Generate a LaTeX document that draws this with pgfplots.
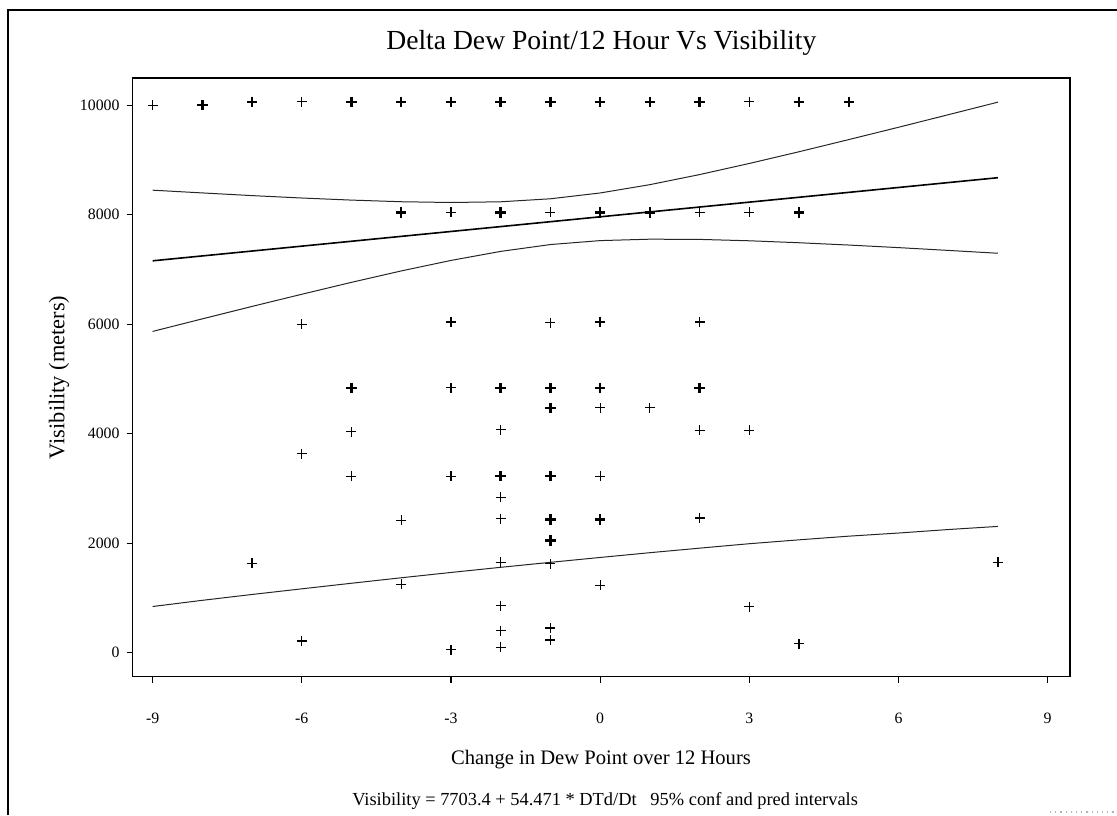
\documentclass[border=0pt]{standalone}
\usepackage{fontspec}
\setmainfont{Liberation Serif}
\usepackage{pgfplots}
\pgfplotsset{compat=1.18}

% scatter: observations (bold = repeated observations)
\pgfplotstableread{
x y
-9 10000
-6 10060
3 10060
-3 8040
-1 8040
2 8040
3 8040
-6 6000
-1 6027
2 6040
-3 4838
0 4472
1 4472
-5 4033
-2 4070
2 4057
3 4057
-6 3630
-5 3219
-3 3219
0 3219
-2 2840
-4 2416
-2 2447
2 2459
-7 1628
-2 1650
-1 1623
8 1647
-4 1250
0 1226
-2 860
3 842
-1 450
-2 403
-1 232
-6 214
4 160
-2 100
-3 50
}\thinpts
\pgfplotstableread{
x y
-8 10000
-7 10060
-5 10060
-4 10060
-3 10060
-2 10060
-1 10060
0 10060
1 10060
2 10060
4 10060
5 10060
-4 8040
-2 8040
0 8040
1 8040
4 8040
-3 6040
0 6040
-5 4838
-2 4838
-1 4838
0 4838
2 4838
-1 4472
-2 3225
-1 3225
-1 2430
0 2430
-1 2050
}\boldpts
% 95% confidence band
\pgfplotstableread{
x up lo
-9 8446 5866
-8 8396 6096
-7 8347 6323
-6 8303 6545
-5 8265 6763
-4 8235 6971
-3 8221 7163
-2 8234 7328
-1 8289 7453
0 8395 7525
1 8547 7551
2 8731 7547
3 8934 7522
4 9148 7486
5 9370 7444
6 9595 7397
7 9824 7346
8 10054 7294
}\conf
% lower 95% prediction limit
\pgfplotstableread{
x lo
-9 842
-8 955
-7 1062
-6 1165
-5 1267
-4 1367
-3 1464
-2 1558
-1 1649
0 1738
1 1825
2 1908
3 1989
4 2060
5 2127
6 2184
7 2248
8 2305
}\pred

\begin{document}
\begin{tikzpicture}
\path[use as bounding box] (0,0) rectangle (558.5pt,407.5pt);
% outer frame (open at right and bottom)
\draw[line width=0.85pt] (4.15pt,0pt) -- (4.15pt,402.5pt) -- (558.5pt,402.5pt);
\draw[gray!60, dotted, line width=0.6pt] (525pt,1.5pt) -- (558.5pt,1.5pt);
\begin{axis}[
    scale only axis,
    width=468.65pt,
    height=299.35pt,
    at={(66.35pt,69.15pt)},
    anchor=south west,
    xmin=-9.4, xmax=9.45,
    ymin=-440, ymax=10495,
    scaled y ticks=false,
    axis line style={line width=0.75pt},
    tick style={black, line width=0.6pt},
    tick align=outside,
    major tick length=3pt,
    xtick pos=bottom, ytick pos=left,
    xtick={-9,-6,-3,0,3,6,9},
    xticklabels={-9,-6,-3,0,3,6,9},
    ytick={0,2000,4000,6000,8000,10000},
    yticklabels={0,2000,4000,6000,8000,10000},
    ticklabel style={font=\fontsize{7.9pt}{9pt}\selectfont},
    xticklabel style={anchor=center, inner sep=0pt, yshift=-18pt},
    yticklabel style={anchor=east, inner sep=0pt, xshift=-3.4pt},
    title={Delta Dew Point/12 Hour Vs Visibility},
    title style={at={(rel axis cs:0.5,1)}, anchor=center, yshift=11.5pt,
        font=\fontsize{13.8pt}{16pt}\selectfont},
    xlabel={Change in Dew Point over 12 Hours},
    xlabel style={at={(rel axis cs:0.4996,0)}, anchor=center, yshift=-41.6pt,
        font=\fontsize{10.3pt}{12pt}\selectfont},
    ylabel={Visibility (meters)},
    every axis y label/.style={at={(rel axis cs:0,0.5)}, xshift=-36.8pt,
        rotate=90, anchor=center, font=\fontsize{11.2pt}{13pt}\selectfont},
    clip=false,
]
\addplot[black!85, line width=0.5pt] table[x=x, y=up] {\conf};
\addplot[black!85, line width=0.5pt] table[x=x, y=lo] {\conf};
\addplot[black, line width=0.8pt] coordinates {(-9,7156) (8,8674)};
\addplot[black!85, line width=0.5pt] table[x=x, y=lo] {\pred};
\addplot[only marks, mark=+, mark size=2.5pt, mark options={line width=0.6pt}] table {\thinpts};
\addplot[only marks, mark=+, mark size=2.6pt, mark options={line width=1.2pt}] table {\boldpts};
\node[font=\fontsize{9.2pt}{11pt}\selectfont] at (rel axis cs:0.504,0) [yshift=-62pt]
    {Visibility = 7703.4 + 54.471 * DTd/Dt\ \ \ 95\% conf and pred intervals};
\end{axis}
\end{tikzpicture}
\end{document}
